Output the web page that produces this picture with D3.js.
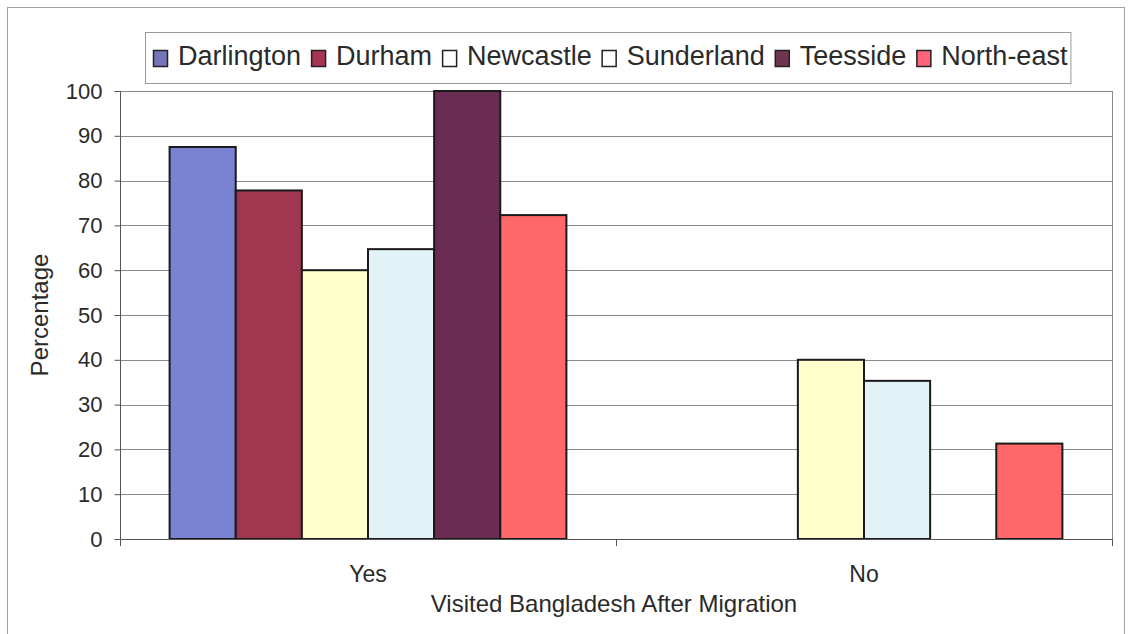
<!DOCTYPE html>
<html><head><meta charset="utf-8">
<script src="https://cdn.jsdelivr.net/npm/d3@7"></script>
<style>body{margin:0;background:#fff}svg{display:block}text{font-family:"Liberation Sans",Arial,sans-serif;fill:#2a2a2a}</style>
</head><body><svg id="c" width="1134" height="634"></svg>
<script>
const categories = ["Yes", "No"];
const seriesNames = ["Darlington", "Durham", "Newcastle", "Sunderland", "Teesside", "North-east"];
const darlington = [87.5, 0];
const durham = [77.8, 0];
const newcastle = [60, 40];
const sunderland = [64.7, 35.3];
const teesside = [100, 0];
const northEast = [72.3, 21.3];
const yTicks = [0, 10, 20, 30, 40, 50, 60, 70, 80, 90, 100];
const colors = ["#7a82d2", "#a0364f", "#ffffcc", "#e2f3f8", "#6a2c52", "#ff6868"];
const legendColors = ["#7474b8", "#a83454", "#ffffff", "#ffffff", "#6e3450", "#ff6478"];
const seriesValues = [darlington, durham, newcastle, sunderland, teesside, northEast];

const svg = d3.select("#c");
const m = {l:120, r:1112, t:91, b:539};

// outer border
svg.append("rect").attr("x",7.5).attr("y",7.5).attr("width",1117).attr("height",660)
  .attr("fill","none").attr("stroke","#a0a0a0").attr("stroke-width",1);

const x0 = d3.scaleBand().domain(categories).range([m.l, m.r]).padding(0);
// Excel gap width 150%: outer gap 0.75 bar each side
const barW = x0.bandwidth() / (seriesNames.length + 1.5);
const xs = d3.scaleBand().domain(seriesNames).range([0.75*barW, x0.bandwidth()-0.75*barW]).padding(0);
const y = d3.scaleLinear().domain([0,100]).range([m.b, m.t]);

// gridlines
svg.append("g").selectAll("line").data(yTicks.filter(d=>d>0)).join("line")
  .attr("x1",m.l).attr("x2",m.r).attr("y1",d=>Math.round(y(d))+0.5).attr("y2",d=>Math.round(y(d))+0.5)
  .attr("stroke","#8a8a8a").attr("stroke-width",1);
// right frame
svg.append("line").attr("x1",m.r+0.5).attr("x2",m.r+0.5).attr("y1",m.t).attr("y2",m.b).attr("stroke","#8a8a8a");

// bars
const g = svg.append("g");
categories.forEach((c, ci) => {
  seriesNames.forEach((s, si) => {
    const v = seriesValues[si][ci];
    if (!v) return;
    g.append("rect")
      .attr("x", x0(c) + xs(s))
      .attr("y", y(v))
      .attr("width", xs.bandwidth())
      .attr("height", y(0) - y(v))
      .attr("fill", colors[si])
      .attr("stroke", "#1a1a1a").attr("stroke-width", 2);
  });
});

// y axis
const ya = svg.append("g").attr("transform",`translate(${m.l+0.5},0)`)
  .call(d3.axisLeft(y).tickValues(yTicks).tickSize(6).tickPadding(12));
ya.select(".domain").attr("stroke","#555").attr("d",`M0,${m.t}V${m.b+7}`);
ya.selectAll(".tick line").attr("stroke","#555");
ya.selectAll("text").style("font-size","22px").attr("fill","#2a2a2a");

// x axis
const xa = svg.append("g").attr("transform",`translate(0,${m.b+0.5})`)
  .call(d3.axisBottom(x0).tickSize(0).tickPadding(26));
xa.select(".domain").attr("stroke","#555").attr("d",`M${m.l},0H${m.r}`);
xa.selectAll("text").style("font-size","23px").attr("fill","#2a2a2a");
// category boundary ticks
svg.append("g").selectAll("line").data([m.l, m.l + x0.bandwidth(), m.r]).join("line")
  .attr("x1",d=>d+0.5).attr("x2",d=>d+0.5).attr("y1",m.b).attr("y2",m.b+7).attr("stroke","#555");

// axis titles
svg.append("text").attr("x",614).attr("y",612).attr("text-anchor","middle")
  .style("font-size","24px").text("Visited Bangladesh After Migration");
svg.append("text").attr("transform",`translate(48,315) rotate(-90)`).attr("text-anchor","middle")
  .style("font-size","24px").text("Percentage");

// legend
const lg = svg.append("g");
const lbox = lg.append("rect").attr("x",145.5).attr("y",32.5).attr("height",51)
  .attr("fill","#fff").attr("stroke","#999");
let cx = 153;
seriesNames.forEach((s, i) => {
  lg.append("rect").attr("x",cx+0.5).attr("y",50.5).attr("width",14).attr("height",16)
    .attr("fill",legendColors[i]).attr("stroke","#222").attr("stroke-width",1.5);
  const t = lg.append("text").attr("x",cx+25).attr("y",65).style("font-size","27px").text(s);
  cx += 25 + t.node().getComputedTextLength() + 10;
});
lbox.attr("width", cx - 145 - 7);
</script></body></html>
